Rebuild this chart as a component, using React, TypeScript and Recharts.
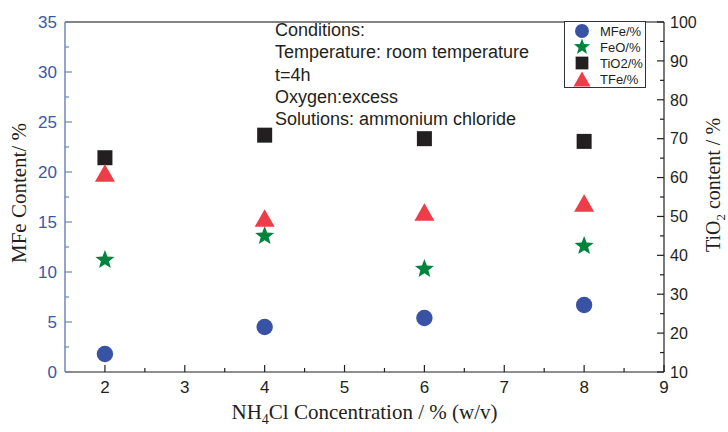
import React from 'react';
import { ScatterChart, Scatter, XAxis, YAxis, ReferenceLine, Legend } from 'recharts';

// NH4Cl concentration, % (w/v)
const concentration = [2, 4, 6, 8];
// left axis series
const mfeValues = [1.8, 4.5, 5.4, 6.7];
const feoValues = [11.2, 13.6, 10.3, 12.6];
const tfeValues = [19.9, 15.4, 16.0, 16.9];
// right axis series
const tio2Values = [65.1, 70.9, 70.0, 69.3];

const xMajor = [2, 3, 4, 5, 6, 7, 8, 9];
const xMinor = [2.5, 3.5, 4.5, 5.5, 6.5, 7.5, 8.5];
const leftMajor = [0, 5, 10, 15, 20, 25, 30, 35];
const leftMinor = [2.5, 7.5, 12.5, 17.5, 22.5, 27.5, 32.5];
const rightMajor = [10, 20, 30, 40, 50, 60, 70, 80, 90, 100];
const rightMinor = [15, 25, 35, 45, 55, 65, 75, 85, 95];

const conditions = [
  'Conditions:',
  'Temperature: room temperature',
  't=4h',
  'Oxygen:excess',
  'Solutions: ammonium chloride',
];

const BLUE_TEXT = '#3c58a8';
const BLUE_LINE = '#6f86c6';
const INK = '#231f20';
const SANS = '"Liberation Sans", Arial, sans-serif';
const SERIF = '"Liberation Serif", "Times New Roman", serif';

const toPoints = (ys: number[]) => concentration.map((x, i) => ({ x, y: ys[i] }));

const starPath = (cx: number, cy: number, R: number) => {
  const r = R * 0.42;
  let d = '';
  for (let i = 0; i < 10; i++) {
    const rad = i % 2 === 0 ? R : r;
    const a = -Math.PI / 2 + (i * Math.PI) / 5;
    d += `${i === 0 ? 'M' : 'L'}${cx + rad * Math.cos(a)},${cy + rad * Math.sin(a)}`;
  }
  return d + 'Z';
};

function Marker({ kind, cx, cy, color, scale = 1 }: any) {
  if (kind === 'circle') return <circle cx={cx} cy={cy} r={8.2 * scale} fill={color} />;
  if (kind === 'star') return <path d={starPath(cx, cy, 10 * scale)} fill={color} />;
  if (kind === 'square') {
    const s = 15 * scale;
    return <rect x={cx - s / 2} y={cy - s / 2} width={s} height={s} fill={color} />;
  }
  const w = 20 * scale;
  const h = 17.5 * scale;
  return (
    <path d={`M${cx},${cy - h / 2}L${cx + w / 2},${cy + h / 2}L${cx - w / 2},${cy + h / 2}Z`} fill={color} />
  );
}

const series = [
  { name: 'MFe/%', data: toPoints(mfeValues), axis: 'left', kind: 'circle', color: '#3953a4' },
  { name: 'FeO/%', data: toPoints(feoValues), axis: 'left', kind: 'star', color: '#00843d' },
  { name: 'TiO2/%', data: toPoints(tio2Values), axis: 'right', kind: 'square', color: INK },
  { name: 'TFe/%', data: toPoints(tfeValues), axis: 'left', kind: 'triangle', color: '#ee3d48' },
];

const LeftTick = (props: any) => {
  const { x, y, payload } = props;
  const major = leftMajor.includes(payload.value);
  const ax = x + 8;
  return (
    <g>
      <line x1={ax} x2={ax + (major ? 7 : 4)} y1={y} y2={y} stroke={BLUE_LINE} strokeWidth={1.2} />
      {major && (
        <text x={x} y={y} dy="0.36em" textAnchor="end" fill={BLUE_TEXT} fontSize={17} fontFamily={SANS}>
          {payload.value}
        </text>
      )}
    </g>
  );
};

const RightTick = (props: any) => {
  const { x, y, payload } = props;
  const major = rightMajor.includes(payload.value);
  const ax = x - 6;
  return (
    <g>
      <line x1={ax} x2={ax - (major ? 7 : 4)} y1={y} y2={y} stroke={INK} strokeWidth={1.2} />
      {major && (
        <text x={x} y={y} dy="0.36em" textAnchor="start" fill={INK} fontSize={16} fontFamily={SANS}>
          {payload.value}
        </text>
      )}
    </g>
  );
};

const BottomTick = (props: any) => {
  const { x, y, payload } = props;
  const major = xMajor.includes(payload.value);
  const ay = y - 9;
  return (
    <g>
      <line x1={x} x2={x} y1={ay} y2={ay - (major ? 7 : 4)} stroke={INK} strokeWidth={1.2} />
      {major && (
        <text x={x} y={y} dy="0.71em" textAnchor="middle" fill={INK} fontSize={17} fontFamily={SANS}>
          {payload.value}
        </text>
      )}
    </g>
  );
};

const LeftTitle = (props: any) => {
  const { viewBox } = props;
  const cx = viewBox.x + 19;
  const cy = viewBox.y + viewBox.height / 2 - 4;
  return (
    <text x={cx} y={cy} transform={`rotate(-90, ${cx}, ${cy})`} textAnchor="middle" dy="0.35em"
      fontFamily={SERIF} fontSize={21} fill={INK}>
      MFe Content/ %
    </text>
  );
};

const RightTitle = (props: any) => {
  const { viewBox } = props;
  const cx = viewBox.x + 49;
  const cy = viewBox.y + viewBox.height / 2 - 12;
  return (
    <text x={cx} y={cy} transform={`rotate(-90, ${cx}, ${cy})`} textAnchor="middle" dy="0.35em"
      fontFamily={SERIF} fontSize={20} fill={INK}>
      TiO<tspan dy={5} fontSize={13}>2</tspan>
      <tspan dy={-5}> content / %</tspan>
    </text>
  );
};

const BottomTitle = (props: any) => {
  const { viewBox } = props;
  const cx = viewBox.x + viewBox.width / 2;
  const cy = viewBox.y + 47;
  return (
    <text x={cx} y={cy} textAnchor="middle" fontFamily={SERIF} fontSize={21} fill={INK}>
      NH<tspan dy={5} fontSize={14}>4</tspan>
      <tspan dy={-5}>Cl Concentration / % (w/v)</tspan>
    </text>
  );
};

const LegendBox = () => (
  <svg width={82} height={67} style={{ display: 'block' }}>
    <rect x={0.5} y={0.5} width={81} height={66} fill="#fff" stroke="#333" strokeWidth={1} />
    {series.map((s, i) => (
      <g key={s.name}>
        <Marker kind={s.kind} cx={18} cy={10 + i * 16} color={s.color} scale={0.85} />
        <text x={36} y={10 + i * 16} dy="0.36em" fontFamily={SANS} fontSize={13} fill={INK}>
          {s.name}
        </text>
      </g>
    ))}
  </svg>
);

export default function App() {
  return (
    <div style={{ position: 'absolute', left: 0, top: 0, width: 728, height: 432, background: '#fff' }}>
      <ScatterChart width={728} height={432} margin={{ top: 22, right: 0, bottom: 0, left: 0 }}>
        <XAxis
          type="number"
          dataKey="x"
          domain={[1.5, 9]}
          ticks={[...xMajor, ...xMinor].sort((a, b) => a - b)}
          interval={0}
          height={60}
          tickSize={0}
          tickMargin={9}
          tickLine={false}
          tick={<BottomTick />}
          axisLine={{ stroke: INK, strokeWidth: 1.2 }}
          label={<BottomTitle />}
        />
        <YAxis
          yAxisId="left"
          type="number"
          dataKey="y"
          domain={[0, 35]}
          ticks={[...leftMajor, ...leftMinor].sort((a, b) => a - b)}
          interval={0}
          width={65}
          tickSize={0}
          tickMargin={8}
          tickLine={false}
          tick={<LeftTick />}
          axisLine={{ stroke: BLUE_LINE, strokeWidth: 1.5 }}
          label={<LeftTitle />}
        />
        <YAxis
          yAxisId="right"
          orientation="right"
          type="number"
          dataKey="y"
          domain={[10, 100]}
          ticks={[...rightMajor, ...rightMinor].sort((a, b) => a - b)}
          interval={0}
          width={64}
          tickSize={0}
          tickMargin={6}
          tickLine={false}
          tick={<RightTick />}
          axisLine={{ stroke: INK, strokeWidth: 1.2 }}
          label={<RightTitle />}
        />
        <ReferenceLine yAxisId="left" y={35} stroke="#5a5a5a" strokeWidth={1.5} />
        {series.map((s) => (
          <Scatter
            key={s.name}
            name={s.name}
            data={s.data}
            yAxisId={s.axis}
            fill={s.color}
            isAnimationActive={false}
            shape={(p: any) => <Marker kind={s.kind} cx={p.cx} cy={p.cy} color={s.color} />}
          />
        ))}
        <Legend
          layout="vertical"
          align="center"
          verticalAlign="middle"
          content={<LegendBox />}
          wrapperStyle={{ left: 564, top: 21, width: 82, height: 67 }}
        />
      </ScatterChart>
      <div
        style={{
          position: 'absolute',
          left: 275,
          top: 19,
          fontFamily: SANS,
          fontSize: 18,
          lineHeight: '22.25px',
          color: INK,
          whiteSpace: 'nowrap',
        }}
      >
        {conditions.map((line) => (
          <div key={line}>{line}</div>
        ))}
      </div>
    </div>
  );
}
